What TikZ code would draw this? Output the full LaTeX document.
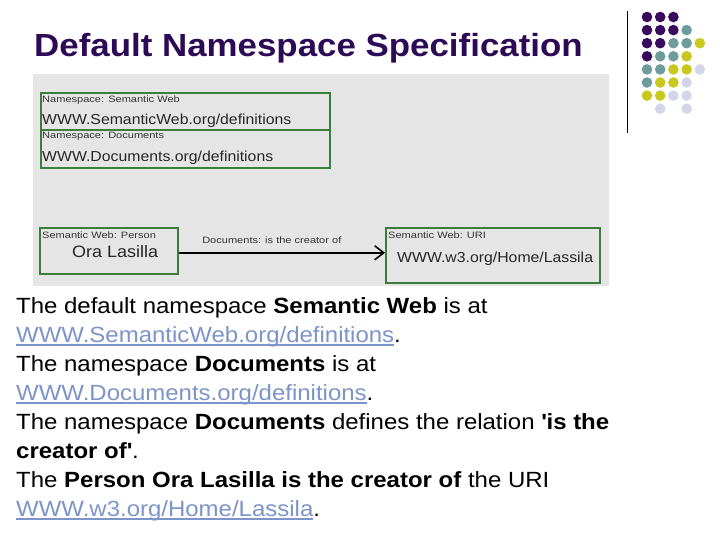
\documentclass[tikz,border=0pt]{standalone}
\usepackage{fontspec}
\setmainfont[FakeStretch=1.09]{Liberation Sans}
\newfontfamily\tagfont[FakeStretch=1.2]{Liberation Sans}
\usetikzlibrary{arrows.meta}
\definecolor{titlepurple}{HTML}{2D0A55}
\definecolor{panelgray}{HTML}{E5E5E5}
\definecolor{boxgreen}{HTML}{3C7D3C}
\definecolor{linkblue}{HTML}{7C94C8}
\definecolor{dp}{HTML}{3A0A5E}
\definecolor{dt}{HTML}{6E9C9C}
\definecolor{dy}{HTML}{C8C81E}
\definecolor{dl}{HTML}{D5D5E8}
\newcommand{\linktext}[1]{{\color{linkblue}\setbox0\hbox{#1}\rlap{\rule[-3.5pt]{\wd0}{1.3pt}}\box0}}
\tikzset{
  nsbox/.style={draw=boxgreen, line width=1.6pt, inner sep=0pt, anchor=north west},
  tag/.style={font=\tagfont\fontsize{9.2}{10}\selectfont, text=black!80, inner sep=0pt, anchor=base west},
  uri/.style={font=\fontsize{14.5}{17}\selectfont, text=black!85, inner sep=0pt, anchor=base west},
  bodyline/.style={font=\fontsize{22}{25}\selectfont, inner sep=0pt, anchor=base west}
}
\begin{document}
\begin{tikzpicture}[x=1pt,y=-1pt]
  \useasboundingbox (0,0) rectangle (720,540);
  % title
  \node[font=\fontsize{32}{35}\selectfont\bfseries, text=titlepurple, inner sep=0pt, anchor=base west] (title) at (34,57) {Default Namespace Specification};
  % dots in the corner
  \draw[line width=1pt] (627,11) -- (627,133);
  \foreach \clist [count=\r from 0] in {{dp,dp,dp},{dp,dp,dp,dt},{dp,dp,dt,dt,dy},{dp,dt,dt,dy},{dt,dt,dy,dy,dl},{dt,dy,dy,dl},{dy,dy,dl,dl},{none,dl,none,dl}}
    \foreach \c [count=\k from 0] in \clist
      \fill[fill=\c] (647+13.2*\k,17+13.1*\r) circle (5.3);
  % the grey panel
  \fill[panelgray] (33,74) rectangle (609,286);
  \node[nsbox, minimum width=289pt, minimum height=37pt] (nsweb) at (40,92) {};
  \node[nsbox, minimum width=289pt, minimum height=38pt] (nsdoc) at (40,129) {};
  \node[tag] (nswebtag) at (42,103) {Namespace: Semantic Web};
  \node[uri] (nsweburl) at (42,125) {WWW.SemanticWeb.org/definitions};
  \node[tag] (nsdoctag) at (42,139) {Namespace: Documents};
  \node[uri] (nsdocurl) at (42,162) {WWW.Documents.org/definitions};
  \node[nsbox, minimum width=138pt, minimum height=46pt] (person) at (39,227) {};
  \node[nsbox, minimum width=214pt, minimum height=55pt] (uriref) at (385,227) {};
  \node[tag] (persontag) at (42,238) {Semantic Web: Person};
  \node[uri, font=\fontsize{16.5}{18}\selectfont] (personname) at (72,257) {Ora Lasilla};
  \node[tag] (uritag) at (388,238) {Semantic Web: URI};
  \node[uri] (uriname) at (397,262) {WWW.w3.org/Home/Lassila};
  \draw[line width=1.8pt, -{Straight Barb[length=9pt,width=14pt,line width=1.6pt]}] ([yshift=-2pt]person.east) -- ([yshift=-2pt]person.east -| uriref.west)
    node[midway, tag, anchor=base, xshift=-10pt, yshift=9pt] (relation) {Documents: is the creator of};
  % the text below
  \node[bodyline] (line1) at (16,313) {The default namespace \textbf{Semantic Web} is at};
  \node[bodyline] (line2) at (16,342) {\linktext{WWW.SemanticWeb.org/definitions}.};
  \node[bodyline] (line3) at (16,371) {The namespace \textbf{Documents} is at};
  \node[bodyline] (line4) at (16,400) {\linktext{WWW.Documents.org/definitions}.};
  \node[bodyline] (line5) at (16,429) {The namespace \textbf{Documents} defines the relation \textbf{\textquotesingle is the}};
  \node[bodyline] (line6) at (16,458) {\textbf{creator of\textquotesingle}.};
  \node[bodyline] (line7) at (16,487) {The \textbf{Person Ora Lasilla is the creator of} the URI};
  \node[bodyline] (line8) at (16,516) {\linktext{WWW.w3.org/Home/Lassila}.};
\end{tikzpicture}
\end{document}
